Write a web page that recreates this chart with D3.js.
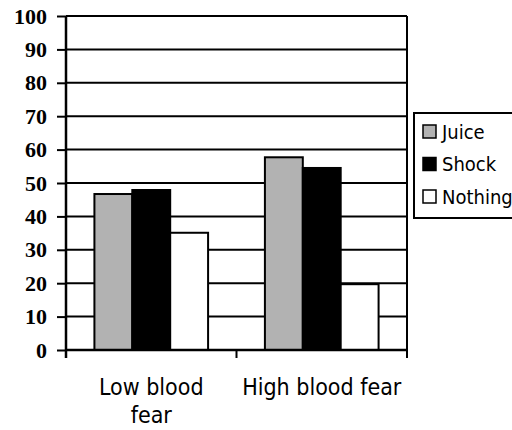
<!DOCTYPE html>
<html>
<head>
<meta charset="utf-8">
<script src="https://cdn.jsdelivr.net/npm/d3@7"></script>
<style>
  html, body { margin: 0; padding: 0; background: #fff; overflow: hidden; }
  svg { display: block; }
</style>
</head>
<body>
<svg id="chart" width="512" height="430"></svg>
<script>
// Chart data
const categories = [["Low blood", "fear"], ["High blood fear"]];
const seriesNames = ["Juice", "Shock", "Nothing"];
const seriesColors = ["#b2b2b2", "#000000", "#ffffff"];
const juice = [46.7, 57.7];
const shock = [47.9, 54.5];
const nothing = [35.1, 19.7];
const yTicks = [0, 10, 20, 30, 40, 50, 60, 70, 80, 90, 100];

const seriesValues = [juice, shock, nothing];

const svg = d3.select("#chart");
const plot = { left: 66, right: 407, top: 16, bottom: 350 };

const x0 = d3.scaleBand()
  .domain(d3.range(categories.length))
  .range([plot.left, plot.right])
  .paddingInner(0)
  .paddingOuter(0);

// bars occupy 3 of 4.5 slot widths per category (gap width 150%)
const groupWidth = x0.bandwidth() * 3 / 4.5;
const x1 = d3.scaleBand()
  .domain(d3.range(seriesNames.length))
  .range([0, groupWidth]);

const y = d3.scaleLinear().domain([0, 100]).range([plot.bottom, plot.top]);

// horizontal gridlines
svg.append("g")
  .selectAll("line")
  .data(yTicks.filter(d => d > 0))
  .join("line")
  .attr("x1", plot.left).attr("x2", plot.right)
  .attr("y1", d => y(d)).attr("y2", d => y(d))
  .attr("stroke", "#000").attr("stroke-width", 2);

// right border of plot area, extended like a category tick
svg.append("line")
  .attr("x1", plot.right).attr("x2", plot.right)
  .attr("y1", plot.top).attr("y2", plot.bottom + 8)
  .attr("stroke", "#000").attr("stroke-width", 2);

// bars
const groups = svg.append("g")
  .selectAll("g")
  .data(categories.map((c, i) => i))
  .join("g")
  .attr("transform", i => `translate(${x0(i) + (x0.bandwidth() - groupWidth) / 2},0)`);

groups.selectAll("rect")
  .data(i => seriesValues.map((vals, s) => ({ s, v: vals[i] })))
  .join("rect")
  .attr("x", d => x1(d.s))
  .attr("width", x1.bandwidth())
  .attr("y", d => y(d.v))
  .attr("height", d => y(0) - y(d.v))
  .attr("fill", d => seriesColors[d.s])
  .attr("stroke", "#000")
  .attr("stroke-width", 2);

// y axis
const yAxis = d3.axisLeft(y).tickValues(yTicks).tickSize(9).tickPadding(10);
const yg = svg.append("g")
  .attr("transform", `translate(${plot.left},0)`)
  .call(yAxis);
yg.select(".domain").attr("stroke", "#000").attr("stroke-width", 2.5)
  .attr("d", `M0,${plot.top}V${plot.bottom + 8}`);
yg.selectAll(".tick line").attr("stroke", "#000").attr("stroke-width", 2);
yg.selectAll(".tick text")
  .attr("fill", "#000")
  .style("font-family", "'Liberation Serif', 'Times New Roman', serif")
  .style("font-weight", "bold")
  .style("font-size", "22px");

// x axis line and category boundary ticks
const xg = svg.append("g")
  .attr("transform", `translate(0,${plot.bottom})`);
xg.append("line")
  .attr("x1", plot.left).attr("x2", plot.right)
  .attr("y1", 0).attr("y2", 0)
  .attr("stroke", "#000").attr("stroke-width", 2.5);
const boundaries = d3.range(categories.length + 1).map(i =>
  i < categories.length ? x0(i) : x0(i - 1) + x0.bandwidth());
xg.selectAll("line.cat-tick")
  .data(boundaries)
  .join("line")
  .attr("class", "cat-tick")
  .attr("x1", d => d).attr("x2", d => d)
  .attr("y1", 0).attr("y2", 8)
  .attr("stroke", "#000").attr("stroke-width", 2);

// category labels
const labelFont = "'DejaVu Sans Condensed', 'DejaVu Sans', sans-serif";
const labels = svg.append("g")
  .selectAll("text")
  .data(categories)
  .join("text")
  .attr("x", (d, i) => x0(i) + x0.bandwidth() / 2)
  .attr("y", 395)
  .attr("text-anchor", "middle")
  .style("font-family", labelFont)
  .style("font-stretch", "condensed")
  .style("font-size", "23px")
  .attr("fill", "#000");
labels.selectAll("tspan")
  .data(d => d)
  .join("tspan")
  .attr("x", function () { return d3.select(this.parentNode).attr("x"); })
  .attr("dy", (d, i) => i === 0 ? 0 : 28)
  .text(d => d);

// legend
const legend = svg.append("g");
legend.append("rect")
  .attr("x", 414).attr("y", 113)
  .attr("width", 120).attr("height", 105)
  .attr("fill", "#fff").attr("stroke", "#000").attr("stroke-width", 2);
const items = legend.selectAll("g.item")
  .data(seriesNames)
  .join("g")
  .attr("class", "item")
  .attr("transform", (d, i) => `translate(423,${125 + i * 32.5})`);
items.append("rect")
  .attr("width", 13).attr("height", 13)
  .attr("fill", (d, i) => seriesColors[i])
  .attr("stroke", "#000").attr("stroke-width", 1.5);
items.append("text")
  .attr("x", 19).attr("y", 13.5)
  .style("font-family", labelFont)
  .style("font-stretch", "condensed")
  .style("font-size", "20px")
  .attr("fill", "#000")
  .text(d => d);
</script>
</body>
</html>
